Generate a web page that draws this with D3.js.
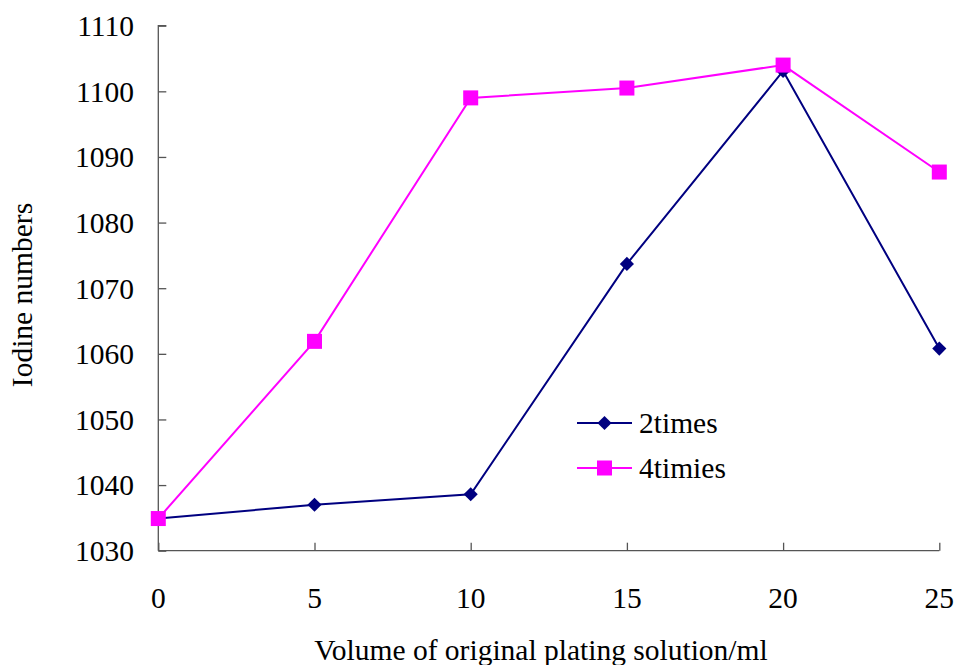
<!DOCTYPE html>
<html><head><meta charset="utf-8">
<script src="https://cdn.jsdelivr.net/npm/d3@7/dist/d3.min.js"></script>
<style>body{margin:0;background:#fff}svg{display:block}</style>
</head><body><svg id="c" width="958" height="665" font-family="'Liberation Serif', 'Times New Roman', serif"></svg>
<script>
const xValues = [0, 5, 10, 15, 20, 25];
const series2times = [1034.9, 1037.0, 1038.6, 1073.7, 1103.1, 1060.8];
const series4timies = [1034.9, 1061.9, 1099.0, 1100.5, 1104.0, 1087.7];
const yTicks = [1030, 1040, 1050, 1060, 1070, 1080, 1090, 1100, 1110];
const xTicks = [0, 5, 10, 15, 20, 25];
const seriesNames = ["2times", "4timies"];

const FS = 29.5;
const svg = d3.select("#c");
const x = d3.scaleLinear().domain([0, 25]).range([158.3, 939.3]);
const y = d3.scaleLinear().domain([1030, 1110]).range([550.7, 25.7]);
const axisColor = "#555";

const yAxis = svg.append("g").attr("transform", "translate(158.3,0)")
  .call(d3.axisRight(y).tickValues(yTicks).tickSize(8).tickFormat(""));
yAxis.selectAll("path,line").attr("stroke", axisColor).attr("stroke-width", 1.3);
yAxis.select(".domain").attr("d", `M8,25.7H0V550.7`);
const xAxis = svg.append("g").attr("transform", "translate(0,550.7)")
  .call(d3.axisTop(x).tickValues(xTicks).tickSize(8).tickFormat(""));
xAxis.selectAll("path,line").attr("stroke", axisColor).attr("stroke-width", 1.3);
xAxis.select(".domain").attr("d", `M158.3,0H939.3`);

svg.append("g").selectAll("text").data(yTicks).join("text")
  .attr("x", 134).attr("y", d => y(d)).attr("dy", "0.35em")
  .attr("text-anchor", "end").attr("font-size", FS).text(d => d);
svg.append("g").selectAll("text").data(xTicks).join("text")
  .attr("x", d => x(d)).attr("y", 598).attr("dy", "0.35em")
  .attr("text-anchor", "middle").attr("font-size", FS).text(d => d);

svg.append("text").attr("x", 541).attr("y", 660).attr("text-anchor", "middle")
  .attr("font-size", FS).text("Volume of original plating solution/ml");
svg.append("text").attr("transform", "translate(32,295) rotate(-90)")
  .attr("text-anchor", "middle").attr("font-size", FS).text("Iodine numbers");

const line = d3.line().x((d, i) => x(xValues[i])).y(d => y(d));
const navy = "#000080", mag = "#ff00ff";

svg.append("path").datum(series2times).attr("d", line).attr("fill", "none")
  .attr("stroke", navy).attr("stroke-width", 2);
svg.append("path").datum(series4timies).attr("d", line).attr("fill", "none")
  .attr("stroke", mag).attr("stroke-width", 2);

const diamondSym = d3.symbol().type(d3.symbolSquare).size(100);
svg.append("g").selectAll("path").data(series2times).join("path")
  .attr("d", diamondSym).attr("transform", (d, i) => `translate(${x(xValues[i])},${y(d)}) rotate(45)`)
  .attr("fill", navy);
svg.append("g").selectAll("rect").data(series4timies).join("rect")
  .attr("x", (d, i) => x(xValues[i]) - 7.5).attr("y", d => y(d) - 7.5)
  .attr("width", 15).attr("height", 15).attr("fill", mag);

// legend
const leg = svg.append("g");
const legY = [423, 468];
const colors = [navy, mag];
seriesNames.forEach((n, i) => {
  leg.append("line").attr("x1", 577).attr("x2", 632).attr("y1", legY[i]).attr("y2", legY[i])
    .attr("stroke", colors[i]).attr("stroke-width", 2);
  if (i === 0) {
    leg.append("path").attr("d", diamondSym())
      .attr("transform", `translate(604.5,${legY[i]}) rotate(45)`).attr("fill", navy);
  } else {
    leg.append("rect").attr("x", 597).attr("y", legY[i] - 7.5).attr("width", 15).attr("height", 15).attr("fill", mag);
  }
  leg.append("text").attr("x", 639).attr("y", legY[i]).attr("dy", "0.35em")
    .attr("font-size", FS).text(n);
});
</script></body></html>
